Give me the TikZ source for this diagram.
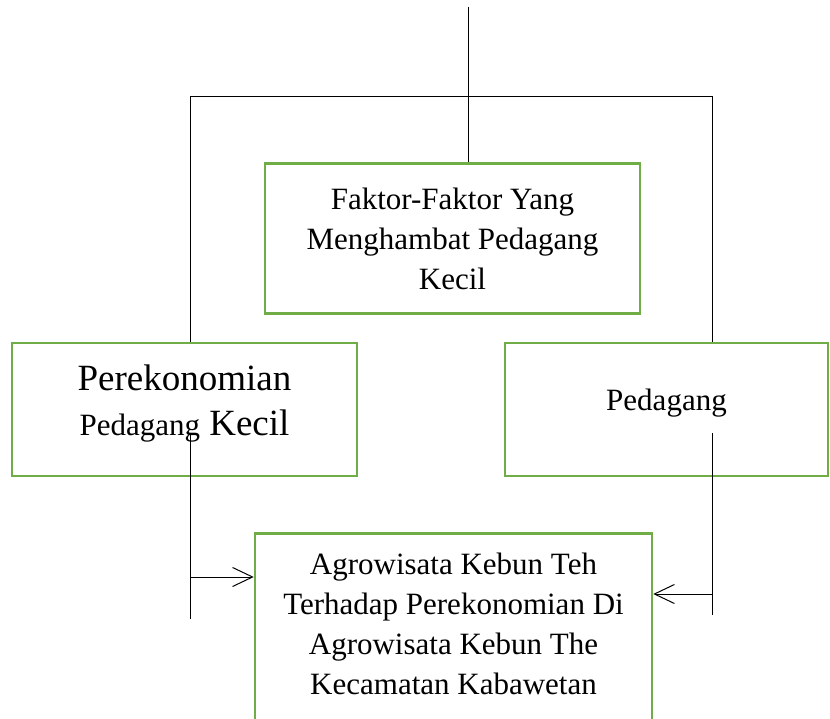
\documentclass[tikz,border=0pt]{standalone}
\usepackage{fontspec}
\setmainfont{Liberation Serif}
\usetikzlibrary{arrows.meta}
\definecolor{boxgreen}{RGB}{112,173,71}
\def\boxfont{\fontsize{31}{40}\selectfont}

\begin{document}
\begin{tikzpicture}[x=1pt,y=-1pt,line width=1pt,draw=black]
    \tikzstyle{box}=[draw=boxgreen,line width=2.5pt,inner sep=0pt,align=center,font=\boxfont]
    \tikzstyle{feed}=[-{Straight Barb[length=20pt,width=19pt]}]
    \useasboundingbox (0,0) rectangle (830,719);

    % Draw the boxes
    \node[box,minimum width=375pt,minimum height=150pt] (faktor) at (452.5,238.5) {Faktor-Faktor Yang\\Menghambat Pedagang\\Kecil};
    \node[box,minimum width=345pt,minimum height=133pt,text depth=19pt,font=\fontsize{37}{45}\selectfont] (ekonomi) at (184.5,409.5) {Perekonomian\\{\boxfont Pedagang} Kecil};
    \node[box,minimum width=323pt,minimum height=133pt,text depth=19pt] (pedagang) at (666.5,409.5) {Pedagang};
    \node[box,minimum width=397pt,anchor=north,inner ysep=20pt,text depth=40pt] (agro) at (453.5,532) {Agrowisata Kebun Teh\\Terhadap Perekonomian Di\\Agrowisata Kebun The\\Kecamatan Kabawetan};

    % Draw the upper lines
    \coordinate (top) at (468,7);
    \coordinate (jl) at (190,97);
    \coordinate (jr) at (712,97);
    \draw (top) -- (top |- faktor.north);
    \draw (ekonomi.north -| jl) -- (jl) -- (jr) -- (pedagang.north -| jr);

    % Draw the lower lines with the arrows into the last box
    \coordinate (lt) at (190,433);
    \coordinate (lb) at (190,619);
    \coordinate (la) at (190,577);
    \coordinate (rt) at (712,433);
    \coordinate (rb) at (712,615);
    \coordinate (ra) at (712,594);
    \draw (lt) -- (lb);
    \draw[feed] (la) -- (agro.west |- la);
    \draw (rt) -- (rb);
    \draw[feed] (ra) -- (agro.east |- ra);
\end{tikzpicture}
\end{document}
